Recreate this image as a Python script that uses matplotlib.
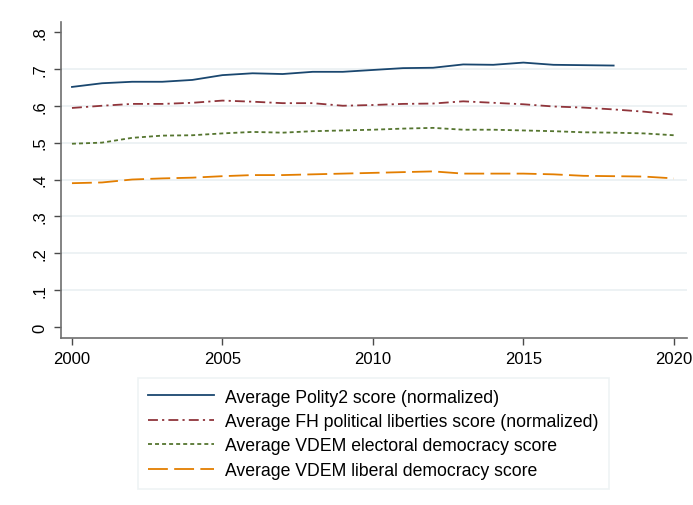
import matplotlib
matplotlib.use("Agg")
import matplotlib.pyplot as plt

plt.rcParams['font.family'] = ['Liberation Sans', 'DejaVu Sans']

years = list(range(2000, 2021))
polity_years = list(range(2000, 2019))
polity2 = [0.651, 0.661, 0.665, 0.665, 0.670, 0.683, 0.688, 0.686, 0.692, 0.692,
           0.697, 0.702, 0.703, 0.712, 0.711, 0.717, 0.711, 0.710, 0.709]
fh = [0.594, 0.600, 0.605, 0.605, 0.608, 0.614, 0.611, 0.607, 0.607, 0.600,
      0.602, 0.605, 0.606, 0.612, 0.608, 0.604, 0.598, 0.595, 0.590, 0.584, 0.576]
vdem_elec = [0.497, 0.500, 0.513, 0.519, 0.520, 0.525, 0.529, 0.527, 0.531, 0.533,
             0.535, 0.538, 0.540, 0.535, 0.535, 0.533, 0.531, 0.528, 0.527, 0.525, 0.520]
vdem_lib = [0.390, 0.392, 0.400, 0.403, 0.405, 0.409, 0.412, 0.412, 0.414, 0.416,
            0.418, 0.420, 0.422, 0.416, 0.416, 0.416, 0.414, 0.410, 0.409, 0.408, 0.403]

labels = ["Average Polity2 score (normalized)",
          "Average FH political liberties score (normalized)",
          "Average VDEM electoral democracy score",
          "Average VDEM liberal democracy score"]
yticks = [0, 0.1, 0.2, 0.3, 0.4, 0.5, 0.6, 0.7, 0.8]
ytick_labels = ["0", ".1", ".2", ".3", ".4", ".5", ".6", ".7", ".8"]
xticks = [2000, 2005, 2010, 2015, 2020]

fig = plt.figure(figsize=(6.93, 5.06), dpi=100)
ax = fig.add_axes([0.088, 0.330, 0.903, 0.6245])

for g in yticks[1:-1]:
    ax.axhline(g, color="#eaf0f2", lw=1.2, zorder=0)

lw = 1.3
l1, = ax.plot(polity_years, polity2, color="#1a476f", lw=lw, solid_joinstyle="round")
l2, = ax.plot(years, fh, color="#90353b", lw=lw, dashes=(5.5, 2.3, 1.2, 2.3))
l3, = ax.plot(years, vdem_elec, color="#55752f", lw=lw, dashes=(2.2, 1.7))
l4, = ax.plot(years, vdem_lib, color="#e37e00", lw=lw, dashes=(11, 3.5))

ax.set_xlim(1999.635, 2020.43)
ax.set_ylim(-0.0298, 0.827)
ax.set_yticks(yticks)
ax.set_yticklabels(ytick_labels, rotation=90, va="center")
ax.set_xticks(xticks)
for s in ["top", "right"]:
    ax.spines[s].set_visible(False)
for s in ["left", "bottom"]:
    ax.spines[s].set_color("#6e6e6e")
    ax.spines[s].set_linewidth(1.2)
ax.tick_params(axis="both", direction="out", length=5, width=1, color="#4a4a4a",
               labelsize=12, pad=4)
ax.tick_params(axis="y", pad=5)

leg = fig.legend([l1, l2, l3, l4], labels, loc="upper center",
                 bbox_to_anchor=(0.539, 0.251), fontsize=12.7, frameon=True,
                 fancybox=False, edgecolor="#eaf0f2", handlelength=3.75,
                 handletextpad=0.63, borderpad=0.6, labelspacing=0.42,
                 borderaxespad=0)
leg.get_frame().set_linewidth(1.2)

fig.savefig("out.png", dpi=100, facecolor="white")
